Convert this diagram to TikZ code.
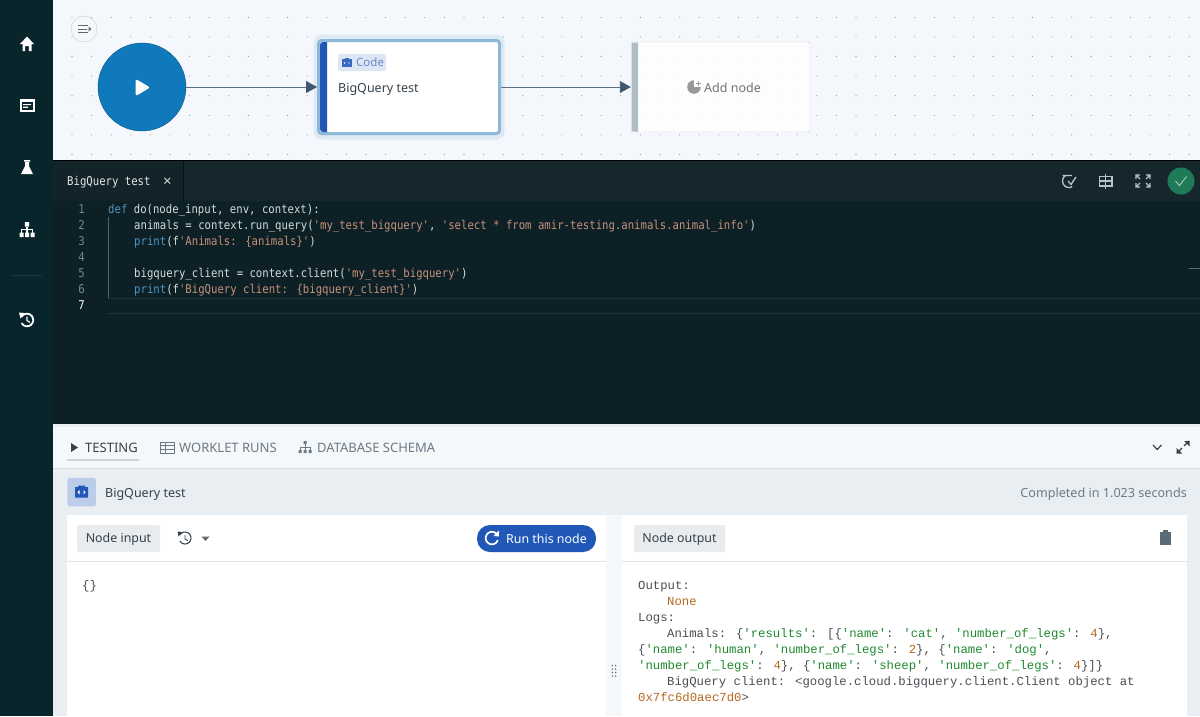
\documentclass[tikz,border=0pt]{standalone}
\usepackage{fontspec}
\setmainfont{Noto Sans}
\newfontfamily\editorfont[FakeStretch=0.88]{DejaVu Sans Mono}
\newfontfamily\outputfont{Liberation Mono}
\usetikzlibrary{arrows.meta}
\definecolor{sidebarbg}{HTML}{07252B}
\definecolor{sidebarline}{HTML}{17383F}
\definecolor{canvasbg}{HTML}{F4F7FB}
\definecolor{editorbg}{HTML}{0C2026}
\definecolor{editorhead}{HTML}{15262C}
\definecolor{panelbg}{HTML}{E9EEF3}
\definecolor{tabsbg}{HTML}{F5F8FA}
\definecolor{chipbg}{HTML}{E9ECEF}
\definecolor{codeblue}{HTML}{2158B8}
\definecolor{startblue}{HTML}{0F79BB}
\definecolor{startedge}{HTML}{0E5A8A}
\definecolor{haloblue}{HTML}{8DB8D8}
\definecolor{edgeline}{HTML}{5D7186}
\definecolor{edgetip}{HTML}{3F5670}
\definecolor{addstripe}{HTML}{B0BEC5}
\definecolor{statusgreen}{HTML}{1F7A58}
\definecolor{toolicon}{HTML}{B9C3C7}
\definecolor{clipgrey}{HTML}{5A6B78}
\definecolor{greytext}{HTML}{6C7A86}
\definecolor{darktext}{HTML}{36424C}
\definecolor{kwblue}{HTML}{4F93BD}
\definecolor{strtan}{HTML}{C5927A}
\definecolor{plaincode}{HTML}{D3DCDD}
\definecolor{outgreen}{HTML}{1E8A2E}
\definecolor{outorange}{HTML}{B5691C}
\definecolor{outgrey}{HTML}{4A4F55}
\newcommand{\kw}[1]{\textcolor{kwblue}{#1}}
\newcommand{\st}[1]{\textcolor{strtan}{#1}}
\newcommand{\gs}[1]{\textcolor{outgreen}{#1}}
\newcommand{\os}[1]{\textcolor{outorange}{#1}}
\begin{document}
\begin{tikzpicture}[x=1pt,y=-1pt]
        \tikzstyle{uitext}=[anchor=base west,inner sep=0pt,font=\fontsize{12.5}{15}\selectfont]
        \tikzstyle{tabtext}=[uitext,font=\fontsize{13}{15}\selectfont,text=greytext]
        \tikzstyle{codeline}=[anchor=base west,inner sep=0pt,text=plaincode,font=\editorfont\fontsize{12.1}{14}\selectfont]
        \tikzstyle{lineno}=[anchor=base east,inner sep=0pt,text=plaincode!55!editorbg,font=\editorfont\fontsize{12.1}{14}\selectfont]
        \tikzstyle{outline}=[anchor=base west,inner sep=0pt,text=outgrey,font=\outputfont\fontsize{12.3}{14}\selectfont]
        \tikzstyle{chip}=[fill=chipbg,rounded corners=2pt,inner sep=0pt,minimum height=27pt,text height=9.5pt,text depth=2.5pt,text=darktext,font=\fontsize{12.4}{15}\selectfont]
        \tikzstyle{edge}=[draw=edgeline,line width=.9pt,-{Triangle[length=11pt,width=12pt,color=edgetip]}]
        \useasboundingbox (0,0) rectangle (1200,716);
        % backgrounds
        \fill[canvasbg] (53,0) rectangle (1200,160);
        \foreach \i in {0,...,57}
          \foreach \j in {0,...,7}
            \fill[black!45] (72+19.6*\i,17.3+19.6*\j) circle (.55pt);
        \fill[black] (53,160) rectangle (1200,161.5);
        \fill[editorbg] (53,161) rectangle (1200,424);
        \fill[editorhead] (183,161) rectangle (1200,201);
        \fill[editorhead!70!editorbg] (53,161) rectangle (183,201);
        \fill[panelbg] (53,424) rectangle (1200,716);
        \fill[tabsbg] (53,427) rectangle (1200,468);
        \draw[black!15] (53,468) -- (1200,468);
        \fill[white] (67,515) rectangle (606,716);
        \fill[tabsbg] (606,515) rectangle (622,716);
        \fill[white] (622,515) rectangle (1187,716);
        \draw[black!10] (67,561.5) -- (606,561.5) (622,561.5) -- (1187,561.5);
        \fill[sidebarbg] (0,0) rectangle (53,716);
        % sidebar
        \fill[white] (20,44) -- (27,36.5) -- (34,44) -- (31.5,44) -- (31.5,51) -- (28.8,51) -- (28.8,46) -- (25.2,46) -- (25.2,51) -- (22.5,51) -- (22.5,44) -- cycle;
        \fill[white] (19.5,99) rectangle (34.5,112);
        \fill[sidebarbg] (21.5,102) rectangle (32.5,110);
        \fill[white] (23,104) rectangle (31,105.2) (23,106.5) rectangle (28,107.8);
        \fill[white] (24,160) rectangle (30,161.5) (25,161) -- (29,161) -- (29,166) -- (33,174) -- (21,174) -- (25,166) -- cycle;
        \fill[white] (24.8,222) rectangle (29.2,226.5) (19.5,232.5) rectangle (23.5,237) (25,232.5) rectangle (29,237) (30.5,232.5) rectangle (34.5,237);
        \draw[white,line width=1.1pt] (21.5,232.5) -- (21.5,229.2) -- (32.5,229.2) -- (32.5,232.5) (27,226.5) -- (27,232.5);
        \draw[sidebarline] (12,275) -- (42,275);
        \draw[white,line width=1.8pt] (21.5,316.85) arc (-150:150:6.3);
        \fill[white] (19,312.5) -- (24.5,313) -- (20.5,318.5) -- cycle;
        \draw[white,line width=1.2pt] (27,316.5) -- (27,320.5) -- (30,322.5);
        % collapse button
        \node[circle,draw=black!20,fill=canvasbg,minimum size=26pt,inner sep=0pt] (collapse) at (84,29) {};
        \draw[black!60,line width=1pt] (78,25.5) -- (88,25.5) (78,29) -- (87,29) (78,32.5) -- (88,32.5);
        \fill[black!60] (88.5,26.5) -- (91.5,29) -- (88.5,31.5) -- cycle;
        % flow nodes
        \node[circle,draw=startedge,fill=startblue,minimum size=88pt,inner sep=0pt] (start) at (142,87) {};
        \filldraw[white,line width=2.4pt,line join=round] (136.8,81) -- (147.8,87.5) -- (136.8,94) -- cycle;
        \draw[haloblue!30,line width=7pt,rounded corners=5pt] (317,38) rectangle (501,136);
        \node[rectangle,rounded corners=3pt,draw=haloblue,line width=3pt,fill=white,minimum width=181pt,minimum height=93pt,outer sep=1.5pt,inner sep=0pt] (code) at (409,87) {};
        \fill[codeblue] (327,42) [rounded corners=3pt] -- (320,42) -- (320,132) [sharp corners] -- (327,132) -- cycle;
        \node[fill=codeblue!15,rounded corners=1.5pt,minimum width=48pt,minimum height=17pt,inner sep=0pt] (badge) at (362,62.5) {};
        \fill[codeblue!90] (342,59) rectangle (351.5,67);
        \fill[white] (345,62) -- (343.8,63) -- (345,64) -- cycle (348.5,62) -- (349.7,63) -- (348.5,64) -- cycle;
        \fill[codeblue!90] (345,58) rectangle (348.5,59);
        \node[anchor=base west,inner sep=0pt,text=codeblue!70!white,font=\fontsize{11.5}{14}\selectfont] (badgetext) at (356,66) {Code};
        \node[uitext,text=darktext] (codetitle) at (338,92) {BigQuery test};
        \node[rectangle,rounded corners=2pt,draw=black!18,fill=white,fill opacity=.85,minimum width=179pt,minimum height=90pt,inner sep=0pt] (addnode) at (720.5,87) {};
        \fill[addstripe] (638,42.5) [rounded corners=2pt] -- (631.5,42.5) -- (631.5,131.5) [sharp corners] -- (638,131.5) -- cycle;
        \fill[black!40] (694,87) circle (6.8pt);
        \fill[white] (693.5,79) rectangle (702,87);
        \draw[black!40,line width=1pt] (698,80.5) -- (698,85.5) (695.5,83) -- (700.5,83);
        \node[uitext,text=black!55] (addtext) at (704,92) {Add node};
        \path[edge] (start) edge (code);
        \path[edge] (code) edge (addnode);
        % editor
        \node[anchor=base west,inner sep=0pt,text=white!90!black,font=\editorfont\fontsize{12.1}{14}\selectfont] (tabtitle) at (67,185) {BigQuery test};
        \node[anchor=base west,inner sep=0pt,text=white!85!black,font=\fontsize{15}{15}\selectfont] (tabclose) at (163,186) {×};
        \draw[black!55!editorhead,line width=.6pt] (183,161) -- (183,201);
        \foreach \n/\yy in {1/213,2/229,3/245,4/261,5/277,6/293}
          \node[lineno] (num\n) at (85,\yy) {\n};
        \node[lineno,text=white] (num7) at (85,309) {7};
        \draw[white!30!editorbg] (108.5,217) -- (108.5,299);
        \draw[white!8!editorbg,line width=1pt] (108,298) -- (1200,298) (108,313) -- (1200,313);
        \draw[white!35!editorbg] (1189,268) -- (1200,268);
        \node[codeline] (code1) at (108,213) {\kw{def} do(node\_input, env, context):};
        \node[codeline] (code2) at (134,229) {animals = context.run\_query(\st{'my\_test\_bigquery'}, \st{'select * from amir-testing.animals.animal\_info'})};
        \node[codeline] (code3) at (134,245) {\kw{print}(f\st{'Animals: \{animals\}'})};
        \node[codeline] (code5) at (134,277) {bigquery\_client = context.client(\st{'my\_test\_bigquery'})};
        \node[codeline] (code6) at (134,293) {\kw{print}(f\st{'BigQuery client: \{bigquery\_client\}'})};
        % editor toolbar
        \draw[toolicon,line width=1.3pt] (1062.5,175.4) -- (1072,175.4) (1065.75,175.4) arc (-120:-300:6.5) (1068,181) -- (1071,184.5) -- (1076,177);
        \draw[toolicon,line width=1.3pt] (1099.5,176.5) rectangle (1112,186) (1099.5,181) -- (1112,181) (1105.7,173.5) -- (1105.7,189);
        \draw[toolicon,line width=1.3pt] (1136,179) -- (1136,175) -- (1140,175) (1146,175) -- (1150,175) -- (1150,179) (1136,183) -- (1136,187) -- (1140,187) (1146,187) -- (1150,187) -- (1150,183) (1137,176) -- (1140,179) (1149,176) -- (1146,179) (1137,186) -- (1140,183) (1149,186) -- (1146,183);
        \node[circle,fill=statusgreen,minimum size=27pt,inner sep=0pt] (status) at (1181,181) {};
        \draw[white!55!statusgreen,line width=1pt] (1175.5,181) -- (1179.5,185.5) -- (1186.5,176.5);
        % testing tabs
        \fill[darktext] (71,443) -- (78,447.5) -- (71,452) -- cycle;
        \node[uitext,font=\fontsize{13}{15}\selectfont,text=darktext] (testing) at (85,452) {TESTING};
        \draw[black!18,line width=2pt] (67,459.5) -- (139,459.5);
        \draw[greytext,line width=1pt] (160.5,442) rectangle (174,453) (160.5,445.5) -- (174,445.5) (160.5,449) -- (174,449) (165,442) -- (165,453);
        \node[tabtext] (worklet) at (179,452) {WORKLET RUNS};
        \fill[greytext] (303.5,441) rectangle (306.5,444) (298.5,450) rectangle (301.5,453) (303.5,450) rectangle (306.5,453) (308.5,450) rectangle (311.5,453);
        \draw[greytext,line width=.8pt] (300,450) -- (300,447) -- (310,447) -- (310,450) (305,444) -- (305,450);
        \node[tabtext] (database) at (317,452) {DATABASE SCHEMA};
        \draw[darktext,line width=1.2pt] (1153,445) -- (1157.2,449.5) -- (1161.5,445);
        \draw[darktext,line width=1.2pt] (1177,453) -- (1182,448) (1184,446) -- (1189,441);
        \fill[darktext] (1176.5,448) -- (1176.5,453.5) -- (1182,453.5) -- cycle (1184,441) -- (1189.5,441) -- (1189.5,446.5) -- cycle;
        % sub header
        \node[fill=codeblue!30,rounded corners=1.5pt,minimum size=28.5pt,inner sep=0pt] (testicon) at (81.5,492) {};
        \fill[codeblue] (75,487) rectangle (88,497.5) (78,485.5) rectangle (85,487);
        \fill[white] (79.5,490) -- (77.5,492.3) -- (79.5,494.5) -- cycle (83.5,490) -- (85.5,492.3) -- (83.5,494.5) -- cycle;
        \node[uitext,text=darktext] (testtitle) at (105,497) {BigQuery test};
        \node[anchor=base east,inner sep=0pt,text=greytext,font=\fontsize{12.6}{15}\selectfont] (completed) at (1187,497) {Completed in 1.023 seconds};
        % input panel
        \node[chip,minimum width=83pt] (nodeinput) at (118.5,538.5) {Node input};
        \draw[darktext,line width=1.1pt] (179.8,535) arc (-150:150:6);
        \fill[darktext] (177.5,531.5) -- (182,532) -- (178.5,536.5) -- cycle;
        \draw[darktext,line width=.9pt] (185,535) -- (185,539) -- (188,540.5);
        \fill[darktext!80] (201.5,536.5) -- (209.5,536.5) -- (205.5,541) -- cycle;
        \node[fill=codeblue,rounded corners=13pt,minimum width=119pt,minimum height=27pt,inner sep=0pt] (runbtn) at (536.5,538.5) {};
        \draw[white,line width=1.7pt] (496.8,534) arc (-40:-340:6.3);
        \fill[white] (498.8,530.5) -- (499,536.5) -- (493.5,536) -- cycle;
        \node[uitext,text=white,font=\fontsize{12.4}{15}\selectfont] (runtext) at (506,543) {Run this node};
        \node[outline] (inputvalue) at (82,589) {\{\}};
        % output panel
        \node[chip,minimum width=91pt] (nodeoutput) at (679.5,538.5) {Node output};
        \fill[clipgrey] (1159.5,532) rectangle (1170.5,545);
        \fill[clipgrey] (1162.5,530) rectangle (1167.5,533);
        \foreach \dy in {665.5,669,672.5,676}
          \fill[black!60] (612.3,\dy) circle (.8pt) (615.7,\dy) circle (.8pt);
        \node[outline] (out1) at (638,589) {Output:};
        \node[outline] (out2) at (667,605) {\os{None}};
        \node[outline] (out3) at (638,621) {Logs:};
        \node[outline] (out4) at (667,637) {Animals: \{\gs{'results'}: [\{\gs{'name'}: \gs{'cat'}, \gs{'number\_of\_legs'}: \os{4}\},};
        \node[outline] (out5) at (638,653) {\{\gs{'name'}: \gs{'human'}, \gs{'number\_of\_legs'}: \os{2}\}, \{\gs{'name'}: \gs{'dog'},};
        \node[outline] (out6) at (638,669) {\gs{'number\_of\_legs'}: \os{4}\}, \{\gs{'name'}: \gs{'sheep'}, \gs{'number\_of\_legs'}: \os{4}\}]\}};
        \node[outline] (out7) at (667,685) {BigQuery client: <google.cloud.bigquery.client.Client object at};
        \node[outline] (out8) at (638,701) {\os{0x7fc6d0aec7d0}>};
\end{tikzpicture}
\end{document}
